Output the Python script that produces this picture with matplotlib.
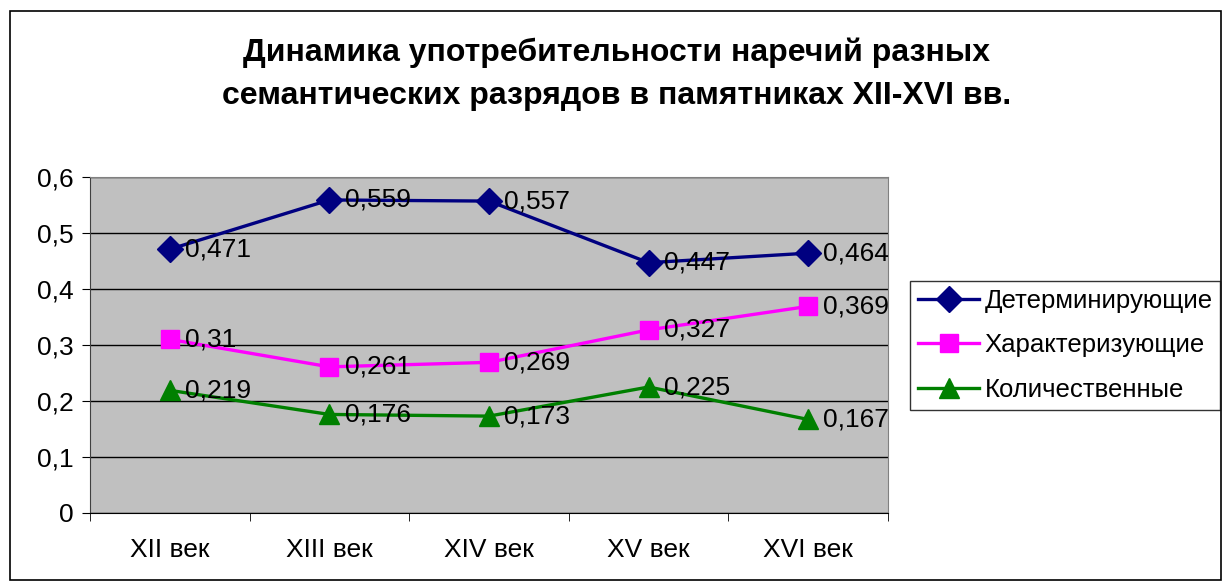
import numpy as np
import matplotlib.pyplot as plt
from matplotlib import ticker
from matplotlib.patches import Rectangle

# Data
centuries = ['XII век', 'XIII век', 'XIV век', 'XV век', 'XVI век']
determ = [0.471, 0.559, 0.557, 0.447, 0.464]
charact = [0.31, 0.261, 0.269, 0.327, 0.369]
quant = [0.219, 0.176, 0.173, 0.225, 0.167]
names = ['Детерминирующие', 'Характеризующие', 'Количественные']

plt.rcParams['font.family'] = ['Liberation Sans', 'DejaVu Sans']

def comma(v):
    s = ('%g' % v).replace('.', ',')
    return s

fig = plt.figure(figsize=(12.26, 5.86), dpi=100)
fig.patches.append(Rectangle((10/1226, 1-580/586), 1211/1226, 569/586, transform=fig.transFigure,
                             fill=False, edgecolor='black', linewidth=1.2))
ax = fig.add_axes([90/1226, 1-513/586, 798/1226, 336/586])
ax.set_facecolor('#C0C0C0')

x = np.arange(len(centuries))
series = [(determ, '#000080', 'D', 13), (charact, '#FF00FF', 's', 13), (quant, '#008000', '^', 14)]
for (vals, col, mk, ms), nm in zip(series, names):
    ax.plot(x, vals, color=col, marker=mk, markersize=ms, linewidth=2.4, label=nm, zorder=3)
    for xi, v in zip(x, vals):
        ax.annotate(comma(v), (xi, v), xytext=(11, 0), textcoords='offset points',
                    va='center', ha='left', fontsize=19, zorder=4)

ax.set_xlim(-0.5, 4.5)
ax.set_ylim(0, 0.6)
ax.set_yticks(np.arange(0, 0.61, 0.1))
ax.yaxis.set_major_formatter(ticker.FuncFormatter(lambda v, p: comma(round(v, 1))))
ax.grid(axis='y', color='black', linewidth=1.0)
ax.set_axisbelow(True)
ax.set_xticks(x)
ax.set_xticklabels(centuries)
ax.set_xticks(np.arange(-0.5, 4.6, 1), minor=True)
ax.tick_params(axis='x', which='major', length=0, pad=18, labelsize=19)
ax.tick_params(axis='x', which='minor', length=6, direction='out')
ax.tick_params(axis='y', length=6, direction='out', labelsize=19, pad=6)
for s in ['top', 'right']:
    ax.spines[s].set_color('#808080')
ax.spines['left'].set_color('#404040')
ax.spines['bottom'].set_color('black')

fig.text(0.503, 1-74/586, 'Динамика употребительности наречий разных\nсемантических разрядов в памятниках XII-XVI вв.',
         ha='center', va='center', fontsize=23, fontweight='bold', linespacing=1.55)

leg = fig.legend(loc='upper left', bbox_to_anchor=(910/1226, 1-281/586), fontsize=18.5,
                 frameon=True, fancybox=False, edgecolor='black', handlelength=2.4,
                 borderpad=0.3, labelspacing=0.8, handletextpad=0.2, borderaxespad=0)
leg.get_frame().set_linewidth(1.0)

fig.savefig('out.png', dpi=100)
